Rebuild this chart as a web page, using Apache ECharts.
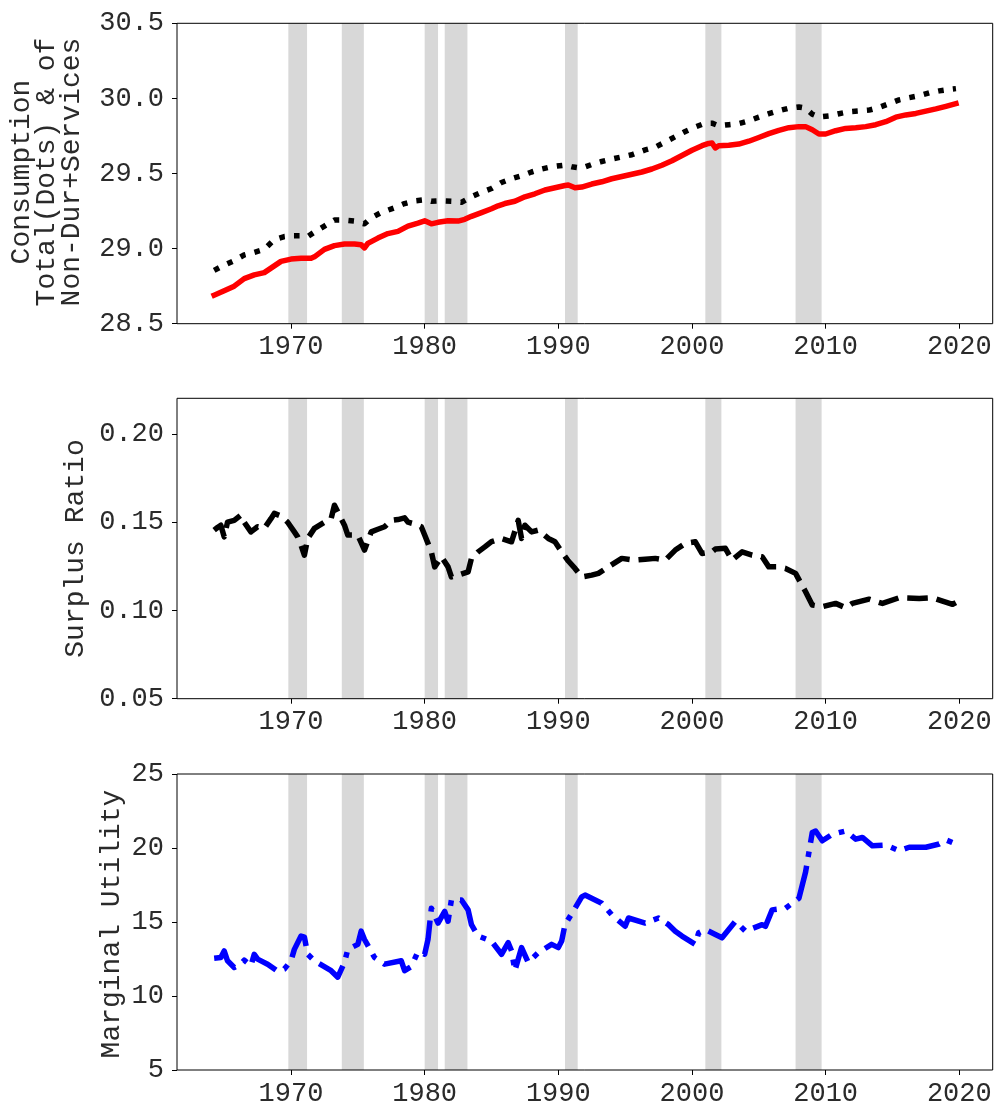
<!DOCTYPE html>
<html>
<head>
<meta charset="utf-8">
<script src="https://cdn.jsdelivr.net/npm/echarts@6/dist/echarts.min.js"></script>
<style>
  html, body { margin: 0; padding: 0; background: #fff; }
  #chart { width: 995px; height: 1107px; }
</style>
</head>
<body>
<div id="chart"></div>
<script>
// ---- Consumption: non-durables + services (log level) ----
const consNdsYears = [1964.25,1965.0,1965.75,1966.5,1967.25,1968.0,1968.5,1969.25,1970.0,1970.75,1971.5,1971.75,1972.5,1973.25,1974.0,1974.75,1975.25,1975.5,1975.75,1976.5,1977.25,1978.0,1978.75,1979.5,1980.0,1980.5,1981.0,1981.75,1982.5,1983.0,1983.5,1984.25,1985.0,1985.5,1986.0,1986.75,1987.5,1988.25,1989.0,1989.75,1990.5,1990.75,1991.25,1991.75,1992.5,1993.25,1994.0,1994.75,1995.5,1996.25,1997.0,1997.75,1998.5,1999.25,2000.0,2000.75,2001.25,2001.5,2001.75,2002.0,2002.75,2003.5,2004.25,2005.0,2005.75,2006.5,2007.25,2008.0,2008.5,2009.0,2009.5,2010.0,2010.75,2011.5,2012.25,2013.0,2013.75,2014.5,2015.25,2016.0,2016.75,2017.5,2018.25,2019.0,2019.75];
const consNdsVals = [28.69,28.72,28.75,28.80,28.825,28.84,28.87,28.915,28.93,28.935,28.935,28.945,28.995,29.02,29.03,29.03,29.025,29.005,29.035,29.07,29.10,29.115,29.15,29.17,29.185,29.165,29.175,29.185,29.183,29.195,29.215,29.24,29.265,29.285,29.30,29.315,29.345,29.365,29.39,29.405,29.42,29.423,29.405,29.41,29.43,29.445,29.465,29.48,29.495,29.51,29.53,29.555,29.585,29.62,29.655,29.685,29.70,29.703,29.67,29.685,29.688,29.696,29.715,29.74,29.765,29.787,29.805,29.812,29.812,29.791,29.763,29.763,29.785,29.80,29.805,29.812,29.825,29.845,29.875,29.89,29.90,29.915,29.93,29.947,29.965];

// ---- Consumption: total (log level) ----
const consTotYears = [1964.25,1965.0,1965.75,1966.5,1967.25,1968.0,1968.75,1969.5,1970.0,1970.75,1971.25,1971.75,1972.5,1973.25,1974.0,1974.75,1975.25,1975.5,1976.0,1976.75,1977.75,1978.5,1979.25,1980.0,1980.5,1981.25,1982.0,1982.75,1983.5,1984.25,1985.0,1985.75,1986.5,1987.25,1988.0,1988.75,1989.5,1990.5,1991.0,1991.75,1992.5,1993.25,1994.0,1994.75,1995.5,1996.5,1997.25,1998.0,1998.75,1999.5,2000.25,2001.0,2001.5,2002.0,2002.75,2003.5,2004.25,2005.0,2005.75,2006.5,2007.25,2008.0,2008.5,2009.0,2009.5,2010.25,2011.0,2011.75,2012.5,2013.25,2014.0,2014.75,2015.5,2016.25,2017.0,2017.75,2018.5,2019.25,2019.75];
const consTotVals = [28.855,28.89,28.92,28.958,28.975,28.995,29.06,29.08,29.085,29.085,29.08,29.11,29.15,29.19,29.19,29.183,29.17,29.165,29.205,29.24,29.272,29.30,29.318,29.325,29.315,29.318,29.315,29.308,29.345,29.375,29.40,29.44,29.465,29.485,29.51,29.53,29.545,29.556,29.545,29.536,29.56,29.58,29.596,29.61,29.625,29.657,29.675,29.71,29.745,29.78,29.81,29.835,29.835,29.818,29.825,29.832,29.85,29.875,29.898,29.918,29.935,29.943,29.935,29.895,29.876,29.883,29.898,29.911,29.916,29.922,29.94,29.965,29.99,30.005,30.018,30.037,30.05,30.06,30.065];

// ---- Surplus consumption ratio ----
const surplusYears = [1964.25,1964.5,1964.75,1965.0,1965.25,1965.75,1966.25,1966.5,1967.0,1967.5,1968.0,1968.5,1968.75,1969.25,1969.75,1970.25,1970.5,1970.75,1971.0,1971.25,1971.75,1972.5,1973.0,1973.25,1973.75,1974.0,1974.25,1975.0,1975.5,1976.0,1976.5,1977.0,1977.5,1978.0,1978.5,1978.75,1979.25,1979.75,1980.0,1980.25,1980.5,1980.75,1981.0,1981.25,1981.75,1982.0,1982.5,1983.25,1983.5,1984.0,1984.5,1985.0,1985.75,1986.5,1987.0,1987.25,1987.5,1988.0,1988.5,1989.25,1989.75,1990.25,1990.75,1991.25,1991.75,1992.5,1993.0,1993.75,1994.75,1995.75,1996.5,1997.25,1998.0,1998.75,1999.5,2000.25,2000.75,2001.5,2001.75,2002.5,2003.0,2003.75,2004.5,2005.25,2005.75,2006.5,2007.0,2007.75,2008.5,2009.0,2009.75,2010.75,2011.5,2012.0,2013.25,2014.25,2015.5,2017.0,2018.0,2018.75,2019.5,2019.75];
const surplusVals = [0.1455,0.1470,0.1483,0.1417,0.150,0.151,0.154,0.150,0.1445,0.1474,0.1465,0.152,0.155,0.1535,0.150,0.1445,0.1417,0.1370,0.1313,0.1408,0.1465,0.150,0.152,0.1596,0.152,0.1483,0.1427,0.1427,0.1342,0.1445,0.146,0.1474,0.151,0.1515,0.1525,0.150,0.149,0.1474,0.1427,0.138,0.1332,0.1247,0.1275,0.1304,0.1247,0.119,0.120,0.1219,0.1295,0.1332,0.136,0.139,0.1408,0.1389,0.151,0.1408,0.1483,0.1445,0.1455,0.1408,0.1389,0.1332,0.128,0.1238,0.119,0.120,0.121,0.1247,0.1295,0.1285,0.129,0.1295,0.1285,0.1342,0.138,0.1389,0.1323,0.1332,0.1348,0.1352,0.1285,0.1332,0.1313,0.1304,0.1247,0.1247,0.1238,0.121,0.1106,0.1031,0.1021,0.104,0.1015,0.104,0.1064,0.104,0.1072,0.1068,0.1072,0.1053,0.1035,0.1045];

// ---- Marginal utility ----
const muYears = [1964.25,1964.75,1965.0,1965.25,1965.75,1966.25,1966.5,1967.0,1967.25,1967.5,1968.25,1969.0,1969.5,1970.0,1970.25,1970.75,1971.0,1971.25,1971.75,1973.0,1973.5,1974.0,1974.25,1975.0,1975.25,1975.5,1976.25,1977.0,1978.25,1978.5,1979.0,1979.5,1980.0,1980.25,1980.5,1981.0,1981.5,1981.75,1982.0,1982.75,1983.25,1983.5,1984.0,1985.0,1985.75,1986.25,1986.5,1986.75,1987.25,1987.75,1988.5,1989.5,1990.0,1990.25,1990.5,1991.25,1991.75,1992.0,1993.25,1994.0,1995.0,1995.25,1996.5,1997.5,1998.25,1998.75,1999.25,2000.25,2000.5,2001.0,2001.75,2002.25,2003.25,2004.0,2005.25,2005.5,2006.0,2007.0,2008.0,2008.5,2008.75,2009.0,2009.25,2009.75,2010.5,2011.5,2012.25,2012.75,2013.5,2014.5,2015.5,2016.25,2017.5,2018.5,2019.0,2019.75];
const muVals = [12.55,12.6,13.05,12.38,11.93,12.15,12.42,12.05,12.82,12.49,12.15,11.67,11.82,12.38,13.15,14.05,13.98,12.82,12.38,11.71,11.27,12.27,13.15,13.49,14.38,13.82,12.6,12.15,12.38,11.71,11.98,13.0,12.82,13.82,15.93,14.93,15.71,15.05,16.49,16.49,15.82,14.82,14.05,13.71,12.82,13.6,13.05,11.71,13.27,12.27,12.93,13.49,13.27,13.71,14.82,15.93,16.7,16.82,16.27,15.49,14.71,15.27,14.93,15.27,14.82,14.38,14.05,13.49,14.27,14.49,14.15,13.93,15.05,14.38,14.82,14.71,15.82,15.93,16.6,18.38,19.71,21.05,21.15,20.49,20.93,21.15,20.6,20.71,20.15,20.2,19.82,20.05,20.05,20.27,20.55,20.27];

// ---- Recession periods (shaded) ----
const recessions = [[1969.8,1971.2],[1973.8,1975.45],[1980.0,1981.0],[1981.5,1983.2],[1990.5,1991.45],[2001.0,2002.2],[2007.75,2009.7]];

// ---- Tick labels ----
const xTicks = [1970,1980,1990,2000,2010,2020];
const surplusTicks = [0.05,0.10,0.15,0.20];

const FONT = 'Liberation Mono';
const TEXT_COLOR = '#2a2a2a';
const X_MIN = 1961.47, X_MAX = 2022.5;

const zip = (xs, ys) => xs.map((x, i) => [x, ys[i]]);

const grids = [
  { left: 177, width: 815.7, top: 23.3, height: 300.4 },
  { left: 177, width: 815.7, top: 398.3, height: 300.4 },
  { left: 177, width: 815.7, top: 774, height: 300 }
].map(g => Object.assign(g, { show: true, borderColor: '#000', borderWidth: 1, backgroundColor: 'transparent', z: 5 }));

const labelStyle = { fontFamily: FONT, fontSize: 27, color: TEXT_COLOR };
const tickStyle = { show: true, length: 5, lineStyle: { color: '#000', width: 1 } };

const xAxes = [0, 1, 2].map(i => ({
  type: 'value', gridIndex: i, min: X_MIN, max: X_MAX,
  splitLine: { show: false },
  axisLine: { show: false },
  axisTick: Object.assign({ customValues: xTicks }, tickStyle),
  axisLabel: Object.assign({ customValues: xTicks, margin: 10, formatter: v => String(v) }, labelStyle)
}));

const yAxes = [
  {
    type: 'value', gridIndex: 0, min: 28.5, max: 30.5, interval: 0.5,
    splitLine: { show: false }, axisLine: { show: false },
    axisTick: tickStyle,
    axisLabel: Object.assign({ margin: 13, formatter: v => v.toFixed(1) }, labelStyle)
  },
  {
    type: 'value', gridIndex: 1, min: 0.05, max: 0.2202,
    splitLine: { show: false }, axisLine: { show: false },
    axisTick: Object.assign({ customValues: surplusTicks }, tickStyle),
    axisLabel: Object.assign({ customValues: surplusTicks, margin: 13, formatter: v => v.toFixed(2) }, labelStyle)
  },
  {
    type: 'value', gridIndex: 2, min: 5, max: 25, interval: 5,
    splitLine: { show: false }, axisLine: { show: false },
    axisTick: tickStyle,
    axisLabel: Object.assign({ margin: 13, formatter: v => String(Math.round(v)) }, labelStyle)
  }
];

const recessionArea = {
  silent: true,
  itemStyle: { color: '#d8d8d8', opacity: 1 },
  data: recessions.map(r => [{ xAxis: r[0] }, { xAxis: r[1] }])
};

function lineSeries(idx, data, color, dash, cap, withBands) {
  const s = {
    type: 'line', xAxisIndex: idx, yAxisIndex: idx,
    data: data, showSymbol: false, symbol: 'none',
    lineStyle: { color: color, width: 5.5, type: dash, cap: cap, join: 'round' },
    z: 2
  };
  if (withBands) s.markArea = recessionArea;
  return s;
}

const series = [
  lineSeries(0, zip(consNdsYears, consNdsVals), '#ff0000', 'solid', 'square', true),
  lineSeries(0, zip(consTotYears, consTotVals), '#000000', [5.6, 9.2], 'butt', false),
  lineSeries(1, zip(surplusYears, surplusVals), '#000000', [20.6, 8.9], 'butt', true),
  lineSeries(2, zip(muYears, muVals), '#0000ff', [35.6, 8.9, 5.6, 8.9], 'butt', true)
];

const yTitle = (x, y, text) => ({
  type: 'text', x: x, y: y, rotation: Math.PI / 2,
  style: { text: text, font: '28px "' + FONT + '"', fill: TEXT_COLOR, align: 'center', verticalAlign: 'middle', lineHeight: 25 }
});

const chart = echarts.init(document.getElementById('chart'), null, { renderer: 'canvas' });
chart.setOption({
  animation: false,
  backgroundColor: '#fff',
  grid: grids,
  xAxis: xAxes,
  yAxis: yAxes,
  series: series,
  graphic: [
    yTitle(47, 172, 'Consumption\nTotal(Dots) & of\nNon-Dur+Services'),
    yTitle(76, 548.5, 'Surplus Ratio'),
    yTitle(112, 924, 'Marginal Utility')
  ]
});
</script>
</body>
</html>
